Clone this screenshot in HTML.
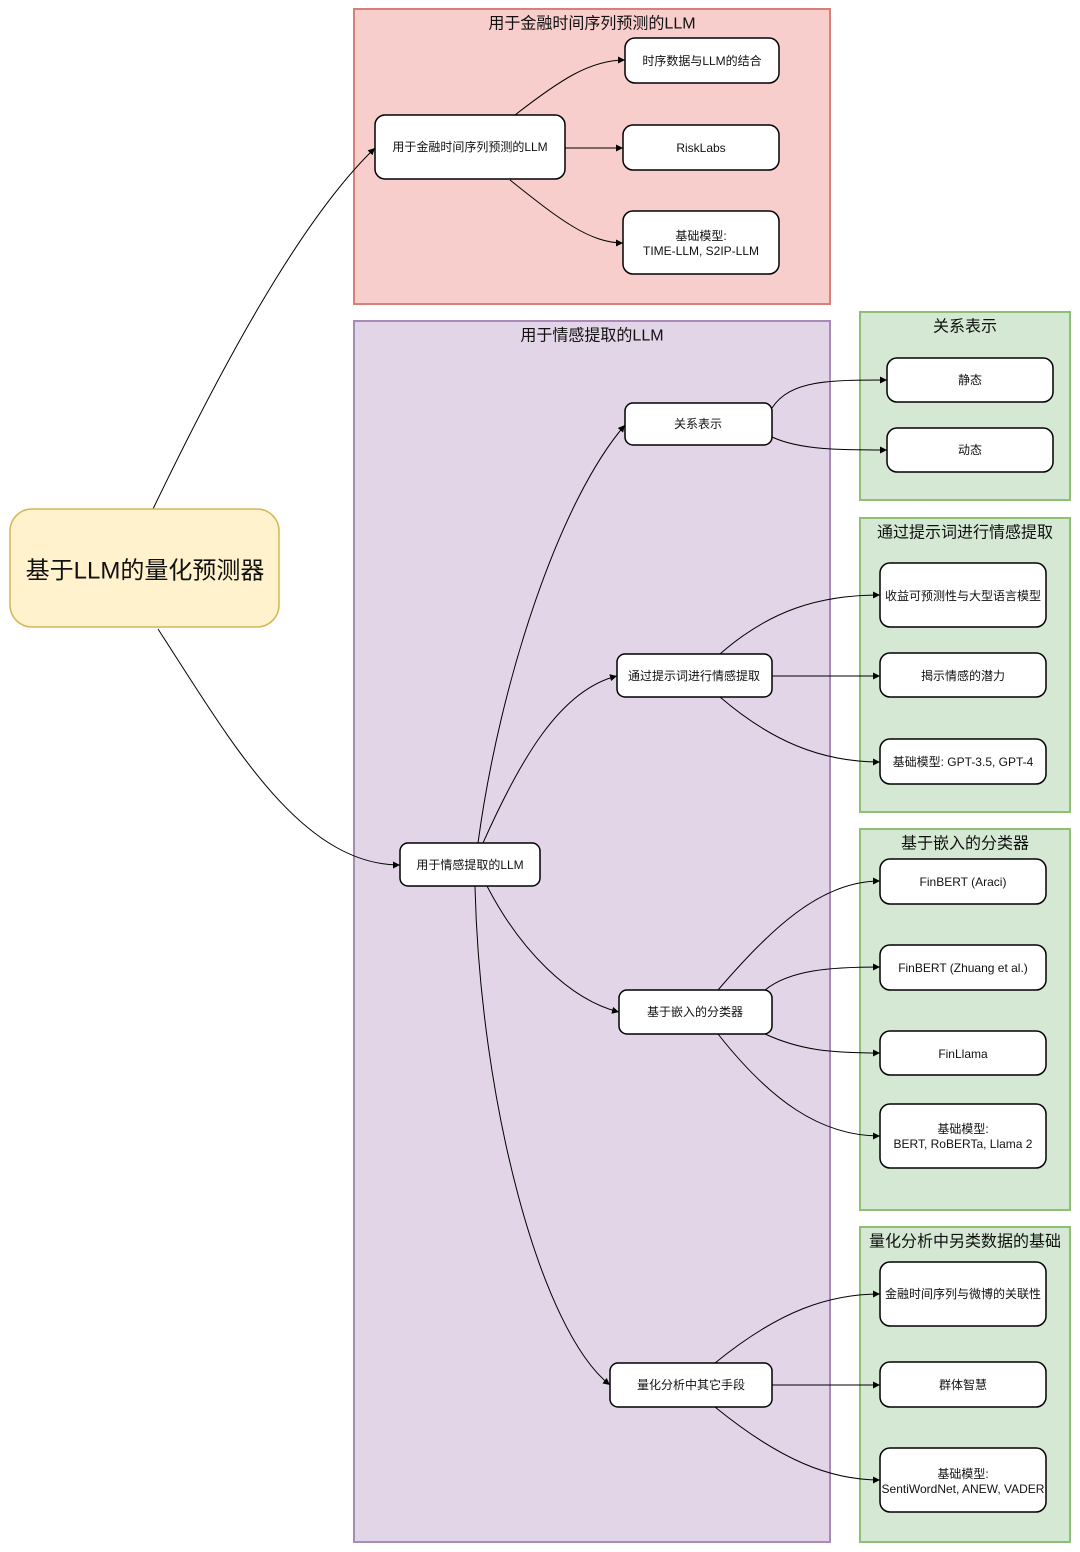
<!DOCTYPE html>
<html><head><meta charset="utf-8"><style>
html,body{margin:0;padding:0;background:#fff;}
svg{display:block;font-family:"Liberation Sans","Noto Sans CJK SC",sans-serif;}
.n{fill:#fff;stroke:#000;stroke-width:1.5;}
.e{fill:none;stroke:#000;stroke-width:1;marker-end:url(#a);}
.t{font-size:12px;text-anchor:middle;dominant-baseline:central;fill:#111;}
.h{font-size:16px;text-anchor:middle;dominant-baseline:central;fill:#111;}
</style></head><body>
<svg width="1080" height="1552" viewBox="0 0 1080 1552" xmlns="http://www.w3.org/2000/svg">
<defs><marker id="a" markerWidth="8" markerHeight="8" refX="7" refY="4" orient="auto" markerUnits="userSpaceOnUse"><path d="M0,0.5 L7,4 L0,7.5 Z" fill="#000"/></marker></defs>
<!-- panels -->
<rect x="354" y="9" width="476" height="295" fill="#f8cecc" stroke="#d87f7c" stroke-width="2"/>
<text class="h" x="592" y="24">用于金融时间序列预测的LLM</text>
<rect x="354" y="321" width="476" height="1221" fill="#e1d5e7" stroke="#a98bb8" stroke-width="2"/>
<text class="h" x="592" y="336">用于情感提取的LLM</text>
<rect x="860" y="312" width="210" height="188" fill="#d5e8d4" stroke="#8fbf74" stroke-width="2"/>
<text class="h" x="965" y="327">关系表示</text>
<rect x="860" y="518" width="210" height="294" fill="#d5e8d4" stroke="#8fbf74" stroke-width="2"/>
<text class="h" x="965" y="533">通过提示词进行情感提取</text>
<rect x="860" y="829" width="210" height="381" fill="#d5e8d4" stroke="#8fbf74" stroke-width="2"/>
<text class="h" x="965" y="844">基于嵌入的分类器</text>
<rect x="860" y="1227" width="210" height="315" fill="#d5e8d4" stroke="#8fbf74" stroke-width="2"/>
<text class="h" x="965" y="1242">量化分析中另类数据的基础</text>
<!-- edges -->
<path class="e" d="M153,509 C220,370 300,220 375,148"/>
<path class="e" d="M158,629 C230,740 300,865 400,865"/>
<path class="e" d="M515,115 C560,80 590,60 625,60"/>
<path class="e" d="M565,148 L623,148"/>
<path class="e" d="M510,180 C560,220 590,243 623,243"/>
<path class="e" d="M478,843 C500,680 560,500 625,425"/>
<path class="e" d="M483,843 C520,760 560,690 617,676"/>
<path class="e" d="M487,886 C520,950 570,1000 619,1012"/>
<path class="e" d="M475,886 C480,1100 540,1330 610,1385"/>
<path class="e" d="M772,408 C790,380 830,380 887,380"/>
<path class="e" d="M772,437 C800,450 840,450 887,450"/>
<path class="e" d="M720,654 C770,610 820,595 880,595"/>
<path class="e" d="M772,676 L880,676"/>
<path class="e" d="M720,697 C770,740 820,762 880,762"/>
<path class="e" d="M718,990 C770,930 820,881 880,881"/>
<path class="e" d="M765,990 C790,970 830,967 880,967"/>
<path class="e" d="M765,1034 C800,1050 830,1053 880,1053"/>
<path class="e" d="M718,1034 C770,1100 820,1136 880,1136"/>
<path class="e" d="M715,1363 C780,1310 830,1294 880,1294"/>
<path class="e" d="M772,1385 L880,1385"/>
<path class="e" d="M715,1407 C780,1460 830,1480 880,1480"/>
<!-- root -->
<rect x="10" y="509" width="269" height="118" rx="22" fill="#fff2cc" stroke="#d6b656" stroke-width="1.5"/>
<text x="145" y="571" style="font-size:24px;text-anchor:middle;dominant-baseline:central;fill:#111">基于LLM的量化预测器</text>
<!-- nodes -->
<rect class="n" x="375" y="115" width="190" height="64" rx="10"/><text class="t" x="470" y="147">用于金融时间序列预测的LLM</text>
<rect class="n" x="625" y="38" width="154" height="45" rx="10"/><text class="t" x="702" y="61">时序数据与LLM的结合</text>
<rect class="n" x="623" y="125" width="156" height="45" rx="10"/><text class="t" x="701" y="148">RiskLabs</text>
<rect class="n" x="623" y="211" width="156" height="63" rx="10"/><text class="t" x="701" y="236">基础模型:</text><text class="t" x="701" y="251">TIME-LLM, S2IP-LLM</text>
<rect class="n" x="400" y="843" width="140" height="43" rx="8"/><text class="t" x="470" y="865">用于情感提取的LLM</text>
<rect class="n" x="625" y="403" width="147" height="42" rx="8"/><text class="t" x="698" y="424">关系表示</text>
<rect class="n" x="887" y="358" width="166" height="44" rx="10"/><text class="t" x="970" y="380">静态</text>
<rect class="n" x="887" y="428" width="166" height="44" rx="10"/><text class="t" x="970" y="450">动态</text>
<rect class="n" x="617" y="654" width="155" height="43" rx="8"/><text class="t" x="694" y="676">通过提示词进行情感提取</text>
<rect class="n" x="880" y="563" width="166" height="64" rx="10"/><text class="t" x="963" y="596">收益可预测性与大型语言模型</text>
<rect class="n" x="880" y="653" width="166" height="44" rx="10"/><text class="t" x="963" y="676">揭示情感的潜力</text>
<rect class="n" x="880" y="739" width="166" height="45" rx="10"/><text class="t" x="963" y="762">基础模型: GPT-3.5, GPT-4</text>
<rect class="n" x="619" y="990" width="153" height="44" rx="8"/><text class="t" x="695" y="1012">基于嵌入的分类器</text>
<rect class="n" x="880" y="859" width="166" height="45" rx="10"/><text class="t" x="963" y="882">FinBERT (Araci)</text>
<rect class="n" x="880" y="945" width="166" height="45" rx="10"/><text class="t" x="963" y="968">FinBERT (Zhuang et al.)</text>
<rect class="n" x="880" y="1031" width="166" height="44" rx="10"/><text class="t" x="963" y="1054">FinLlama</text>
<rect class="n" x="880" y="1104" width="166" height="64" rx="10"/><text class="t" x="963" y="1129">基础模型:</text><text class="t" x="963" y="1144">BERT, RoBERTa, Llama 2</text>
<rect class="n" x="610" y="1363" width="162" height="44" rx="8"/><text class="t" x="691" y="1385">量化分析中其它手段</text>
<rect class="n" x="880" y="1262" width="166" height="64" rx="10"/><text class="t" x="963" y="1294">金融时间序列与微博的关联性</text>
<rect class="n" x="880" y="1362" width="166" height="45" rx="10"/><text class="t" x="963" y="1385">群体智慧</text>
<rect class="n" x="880" y="1448" width="166" height="64" rx="10"/><text class="t" x="963" y="1474">基础模型:</text><text class="t" x="963" y="1489">SentiWordNet, ANEW, VADER</text>
</svg>
</body></html>
